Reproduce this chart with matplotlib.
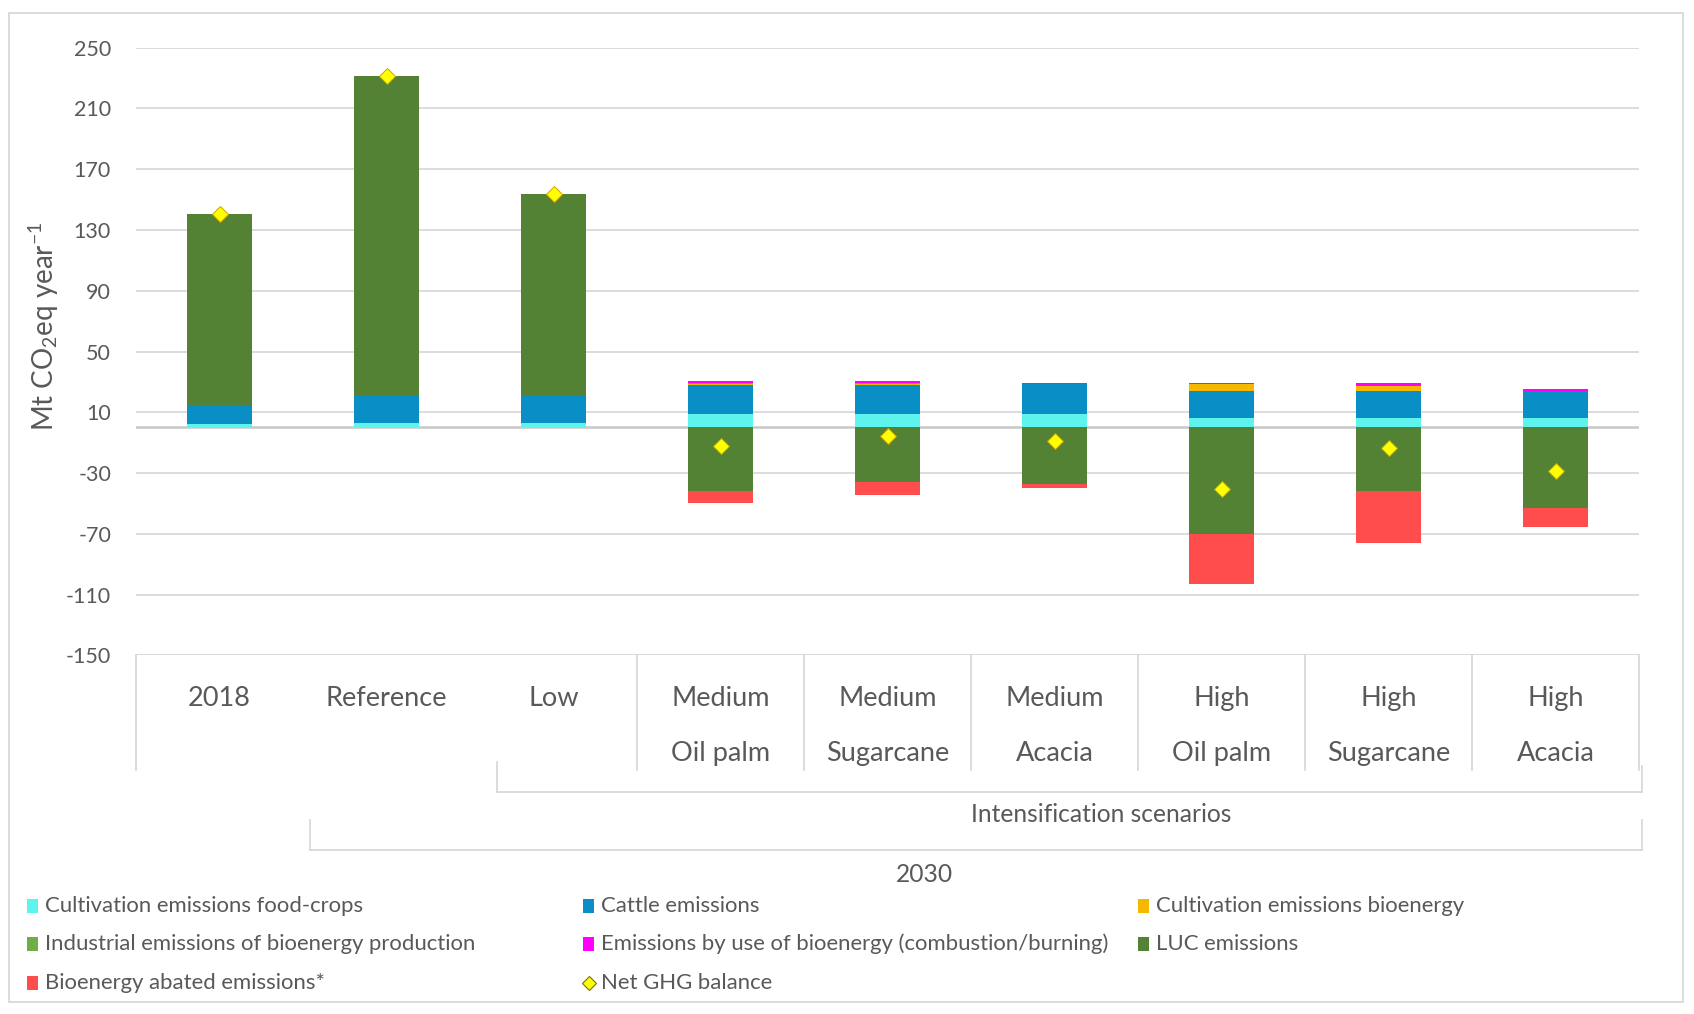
import matplotlib
matplotlib.use('Agg')
import matplotlib.pyplot as plt
import matplotlib.transforms as mtransforms
from matplotlib.patches import Rectangle
from matplotlib.lines import Line2D
import numpy as np

plt.rcParams['font.family'] = ['Lato', 'DejaVu Sans']
plt.rcParams['mathtext.fontset'] = 'custom'
plt.rcParams['mathtext.rm'] = 'Lato'
plt.rcParams['mathtext.it'] = 'Lato:italic'
plt.rcParams['mathtext.bf'] = 'Lato:bold'

# ---------------- data ----------------
cat_line1 = ['2018', 'Reference', 'Low', 'Medium', 'Medium', 'Medium', 'High', 'High', 'High']
cat_line2 = ['', '', '', 'Oil palm', 'Sugarcane', 'Acacia', 'Oil palm', 'Sugarcane', 'Acacia']
group2_label = 'Intensification scenarios'
group3_label = '2030'

food_crops = [2.3, 2.8, 2.8, 8.9, 8.9, 8.9, 6.1, 6.1, 6.1]
cattle = [11.9, 18.1, 18.1, 19.1, 19.1, 19.9, 18.1, 18.1, 18.1]
cult_bioenergy = [0, 0, 0, 0.8, 0.8, 0, 4.3, 3.3, 0]
industrial = [0, 0, 0, 0.5, 0.5, 0, 0, 0, 0]
use_bioenergy = [0, 0, 0, 1.1, 1.1, 0.4, 0.9, 1.6, 0.9]
luc = [126.2, 210.5, 132.6, -41.6, -35.7, -37.2, -70.1, -41.8, -52.8]
abated = [0, 0, 0, -7.9, -8.7, -2.8, -32.9, -34.4, -12.5]
net_ghg = [140.4, 231.4, 153.5, -12.2, -5.6, -8.9, -40.7, -13.7, -28.4]

series_labels = ['Cultivation emissions food-crops', 'Cattle emissions',
                 'Cultivation emissions bioenergy',
                 'Industrial emissions of bioenergy production',
                 'Emissions by use of bioenergy (combustion/burning)',
                 'LUC emissions', 'Bioenergy abated emissions*']
series_colors = ['#5EF3EC', '#0A8EC6', '#F4B800', '#70AD47', '#FF00FF', '#548235', '#FF4D4D']
net_label = 'Net GHG balance'

yticks = list(range(-150, 251, 40))

# ---------------- figure ----------------
W, H = 1694, 1014
fig = plt.figure(figsize=(W / 100, H / 100), dpi=100)
ax_l, ax_r, ax_t, ax_b = 136, 1639, 47.7, 655.3
ax = fig.add_axes([ax_l / W, 1 - ax_b / H, (ax_r - ax_l) / W, (ax_b - ax_t) / H])

TXT = '#595959'
GRID = '#D9D9D9'

x = np.arange(len(cat_line1))
pos_base = np.zeros(len(x))
neg_base = np.zeros(len(x))
all_series = [food_crops, cattle, cult_bioenergy, industrial, use_bioenergy, luc, abated]
for vals, col in zip(all_series, series_colors):
    v = np.array(vals, dtype=float)
    bottom = np.where(v >= 0, pos_base, neg_base)
    ax.bar(x, v, 0.39, bottom=bottom, color=col, linewidth=0, zorder=3)
    pos_base += np.where(v > 0, v, 0)
    neg_base += np.where(v < 0, v, 0)

ax.plot(x, net_ghg, linestyle='none', marker='D', markersize=8.5,
        markerfacecolor='#FFFF00', markeredgecolor='#C9A400', markeredgewidth=0.7, zorder=5)

ax.set_xlim(-0.5, len(x) - 0.5)
ax.set_ylim(-150, 250)
ax.set_yticks(yticks)
ax.set_yticklabels([str(t) for t in yticks])
ax.tick_params(axis='y', length=0, pad=18, labelsize=15.5, labelcolor=TXT)
ax.set_xticks([])
for s in ax.spines.values():
    s.set_visible(False)
ax.yaxis.grid(True, color=GRID, linewidth=1.3, zorder=0)
ax.set_axisbelow(True)
ax.axhline(0, color='#C8C8C8', linewidth=1.8, zorder=2)

# ---------------- multi-level category axis ----------------
trans = mtransforms.blended_transform_factory(ax.transData, fig.transFigure)
def fy(py):
    return 1 - py / H

for i in range(len(x)):
    ax.text(x[i], fy(706), cat_line1[i], transform=trans, ha='center', va='baseline',
            fontsize=19.5, color=TXT)
    if cat_line2[i]:
        ax.text(x[i], fy(761), cat_line2[i], transform=trans, ha='center', va='baseline',
                fontsize=19.5, color=TXT)

def seg(x0, x1, y0, y1):
    ax.add_line(Line2D([x0, x1], [fy(y0), fy(y1)], transform=trans, color=GRID,
                       linewidth=1.3, clip_on=False, zorder=1))

seg(-0.5, -0.5, 655.3, 770)
for b in np.arange(2.5, 8.6, 1.0):
    seg(b, b, 655.3, 770)
# group: intensification scenarios
seg(1.66, 1.66, 762, 792)
seg(1.66, 8.52, 792, 792)
seg(8.52, 8.52, 766, 792)
ax.text(5.28, fy(815), group2_label, transform=trans, ha='center', va='center',
        fontsize=17.7, color=TXT)
# group: 2030
seg(0.54, 0.54, 820, 850)
seg(0.54, 8.52, 850, 850)
seg(8.52, 8.52, 820, 850)
ax.text(4.22, fy(875), group3_label, transform=trans, ha='center', va='center',
        fontsize=17.7, color=TXT)

# ---------------- y label ----------------
fig.text(44 / W, fy(326), r'Mt CO$_2$eq year$^{-1}$', rotation=90, ha='center', va='center',
         fontsize=20, color=TXT)

# ---------------- legend (3 columns, row-major) ----------------
leg_cols = [27, 583, 1138]
leg_rows = [906, 944, 983]
entries = list(zip(series_labels, series_colors)) + [(net_label, None)]
for k, (lab, col) in enumerate(entries):
    r, c = divmod(k, 3)
    px, py = leg_cols[c], leg_rows[r]
    if col is not None:
        fig.patches.append(Rectangle((px / W, fy(py + 7)), 11 / W, 14 / H,
                                     transform=fig.transFigure, facecolor=col,
                                     edgecolor='none'))
    else:
        fig.add_artist(Line2D([(px + 5.5) / W], [fy(py)], transform=fig.transFigure,
                              linestyle='none', marker='D', markersize=7,
                              markerfacecolor='#FFFF00', markeredgecolor='#7F7000',
                              markeredgewidth=0.8))
    fig.text((px + 18) / W, fy(py), lab, ha='left', va='center', fontsize=15.9, color=TXT)

# ---------------- outer border ----------------
fig.patches.append(Rectangle((8.5 / W, fy(1002)), (1683 - 8.5) / W, (1002 - 12.7) / H,
                             transform=fig.transFigure, fill=False,
                             edgecolor=GRID, linewidth=1.3))

fig.savefig('out.png', dpi=100, facecolor='white')
